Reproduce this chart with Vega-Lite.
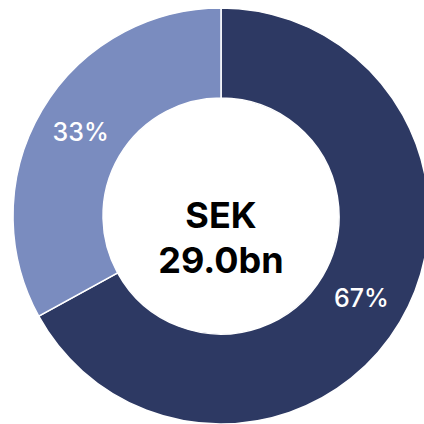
{
  "$schema": "https://vega.github.io/schema/vega-lite/v6.json",
  "width": 442,
  "height": 432,
  "autosize": {"type": "none"},
  "padding": 0,
  "background": "white",
  "view": {"stroke": null},
  "data": {"values": [
    {"segment": "A", "share": 67, "label": "67%", "idx": 1},
    {"segment": "B", "share": 33, "label": "33%", "idx": 2}
  ]},
  "encoding": {
    "theta": {"field": "share", "type": "quantitative", "stack": true},
    "order": {"field": "idx", "type": "quantitative"}
  },
  "layer": [
    {
      "mark": {"type": "arc", "outerRadius": 208, "innerRadius": 118, "stroke": "white", "strokeWidth": 1.5},
      "encoding": {
        "color": {"field": "segment", "type": "nominal", "scale": {"domain": ["A", "B"], "range": ["#2d3963", "#7a8cbf"]}, "legend": null}
      }
    },
    {
      "mark": {"type": "text", "radius": 163, "font": "Inter", "fontWeight": 500, "fontSize": 25, "color": "white", "align": "center", "baseline": "middle"},
      "encoding": {"text": {"field": "label"}}
    },
    {
      "data": {"values": [{"center": ["SEK", "29.0bn"]}]},
      "mark": {"type": "text", "font": "Inter", "fontWeight": "bold", "fontSize": 36, "lineHeight": 45, "color": "black", "align": "center", "baseline": "middle", "dy": 1},
      "encoding": {"text": {"field": "center"}, "theta": null, "order": null}
    }
  ]
}
